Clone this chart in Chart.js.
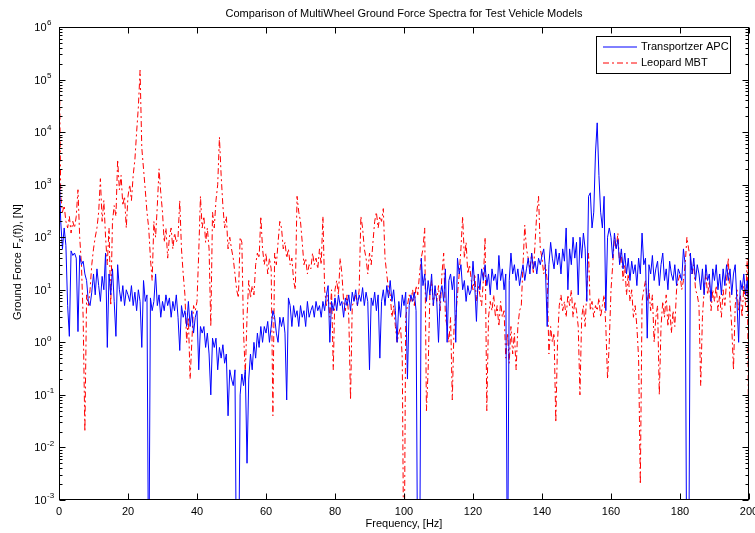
<!DOCTYPE html>
<html>
<head>
<meta charset="utf-8">
<title>MultiWheel Ground Force Spectra</title>
<script src="https://cdn.jsdelivr.net/npm/chart.js@4.4.1/dist/chart.umd.min.js"></script>
<style>
  html, body { margin: 0; padding: 0; background: #fff; }
</style>
</head>
<body>
<canvas id="spectraChart" width="755" height="533"></canvas>
<script>
// Spectrum sampled every 0.5 Hz from 0 to 200 Hz
const FREQ_STEP = 0.5;
const xTicks = [0, 20, 40, 60, 80, 100, 120, 140, 160, 180, 200];
const yDecades = [-3, -2, -1, 0, 1, 2, 3, 4, 5, 6];

// Transportzer APC, ground force [N]
const apcForce = [
  2500, 200, 60, 150, 70, 5, 1.3, 55, 45, 50, 40, 1.6, 45, 30, 35, 20, 15, 6, 5, 9,            // 0-9.5
  20, 8, 25, 12, 6, 18, 10, 50, 0.8, 20, 8, 25, 6, 1.3, 30, 10, 6, 12, 5, 10,                  // 10-19.5
  8, 6, 12, 5, 9, 4, 10, 6, 0.8, 15, 6, 8, 0.00001, 7, 4, 6, 20, 5, 8, 3,                      // 20-29.5
  6, 4, 8, 5, 7, 3, 6, 4, 8, 3, 0.7, 5, 3, 4, 2, 6, 2, 4, 1.5, 3,                              // 30-39.5
  4, 0.3, 2, 1.5, 2, 0.8, 1.5, 0.6, 0.1, 1.2, 0.8, 1.2, 0.3, 0.8, 0.5, 0.9, 0.4, 0.6, 0.04, 0.3, // 40-49.5
  0.2, 0.15, 0.3, 0.00001, 0.00001, 0.1, 0.25, 0.15, 0.3, 0.005, 0.2, 0.6, 0.3, 1, 0.5, 1.5, 0.8, 2, 1, 2, // 50-59.5
  1.5, 2.5, 1, 2, 4, 3, 1.5, 1, 3, 2, 3, 1.5, 0.08, 7, 5, 2, 5, 3, 4, 2,                       // 60-69.5
  5, 3, 4, 2, 6, 3, 4, 5, 3, 6, 4, 5, 3, 6, 4, 8, 12, 1, 6, 4,                                 // 70-79.5
  7, 4, 8, 5, 6, 3, 7, 5, 8, 4, 9, 6, 10, 5, 8, 6, 11, 5, 9, 6,                                // 80-89.5
  0.3, 7, 5, 9, 4, 8, 0.5, 6, 10, 5, 12, 7, 15, 6, 10, 4, 1, 6, 3, 8,                          // 90-99.5
  5, 9, 0.2, 5, 8, 6, 9, 4, 0.00001, 0.00001, 40, 12, 20, 6, 15, 8, 20, 5, 12, 6,              // 100-109.5
  1, 8, 12, 6, 25, 1, 15, 20, 10, 18, 1, 40, 20, 30, 10, 15, 6, 12, 8, 10,                     // 110-119.5
  35, 12, 2.5, 20, 10, 25, 15, 30, 12, 20, 8, 25, 15, 20, 10, 45, 15, 25, 10, 20,              // 120-129.5
  0.00001, 15, 50, 20, 30, 15, 25, 12, 20, 30, 15, 25, 40, 20, 50, 25, 35, 20, 40, 30,         // 130-139.5
  45, 60, 25, 2, 30, 80, 40, 25, 60, 30, 50, 20, 60, 35, 150, 10, 60, 30, 100, 40,             // 140-149.5
  80, 8, 100, 40, 120, 60, 6, 600, 700, 150, 300, 4000, 15000, 1500, 300, 150, 600, 4, 100, 150, // 150-159.5
  100, 40, 120, 60, 90, 30, 60, 25, 50, 20, 40, 15, 35, 20, 30, 12, 40, 20, 120, 30,           // 160-169.5
  40, 1.2, 30, 20, 45, 15, 25, 35, 12, 30, 50, 15, 25, 10, 35, 20, 15, 30, 12, 25,             // 170-179.5
  20, 15, 60, 30, 0.00001, 0.00001, 50, 20, 40, 15, 30, 20, 10, 25, 8, 30, 15, 20, 6, 25,      // 180-189.5
  15, 30, 10, 20, 8, 25, 12, 30, 15, 25, 8, 20, 30, 6, 1, 15, 10, 20, 8, 15,                   // 190-199.5
  3                                                                                            // 200
];

// Leopard MBT, ground force [N]
const leopardForce = [
  900000, 600, 300, 400, 200, 150, 250, 120, 200, 150, 250, 800, 100, 30, 3, 0.02, 8, 5, 10, 30, // 0-9.5
  60, 100, 150, 300, 1300, 200, 500, 100, 30, 150, 5, 200, 400, 250, 3000, 800, 1500, 400, 600, 150, // 10-19.5
  600, 1000, 500, 1500, 3000, 10000, 30000, 150000, 5000, 2000, 800, 300, 150, 40, 15, 200, 100, 400, 2000, 700, // 20-29.5
  300, 80, 150, 40, 100, 150, 60, 120, 80, 100, 500, 60, 20, 8, 1, 3, 0.2, 1, 5, 4,            // 30-39.5
  6, 50, 600, 150, 250, 80, 150, 60, 2, 300, 150, 500, 1000, 8000, 1500, 400, 150, 250, 60, 100, // 40-49.5
  60, 40, 20, 10, 7, 100, 80, 1.5, 0.25, 3, 15, 7, 12, 8, 30, 50, 40, 250, 60, 30,             // 50-59.5
  50, 20, 40, 25, 0.04, 50, 30, 80, 200, 150, 60, 80, 40, 60, 30, 40, 15, 10, 600, 300,        // 60-69.5
  200, 80, 30, 40, 20, 30, 25, 50, 30, 40, 25, 60, 30, 250, 10, 5, 8, 3, 10, 0.3,              // 70-79.5
  10, 15, 8, 40, 20, 6, 4, 8, 3, 0.08, 5, 6, 8, 5, 10, 250, 150, 60, 40, 20,                   // 80-89.5
  50, 30, 80, 200, 300, 150, 250, 200, 350, 40, 20, 10, 8, 3, 5, 2, 1, 1.5, 2, 0.5,            // 90-99.5
  0.00001, 3, 5, 8, 6, 10, 5, 12, 8, 20, 40, 60, 150, 0.05, 0.3, 8, 15, 5, 10, 6,              // 100-109.5
  12, 4, 20, 50, 3, 2, 1, 3, 0.08, 2, 3, 8, 20, 60, 250, 40, 80, 20, 30, 15,                   // 110-119.5
  10, 20, 6, 12, 8, 5, 15, 100, 0.05, 3, 6, 4, 8, 3, 5, 2, 6, 3, 4, 0.5,                       // 120-129.5
  1.5, 0.4, 2, 0.6, 1.5, 0.3, 2, 4, 5, 30, 170, 60, 40, 25, 50, 20, 80, 300, 600, 60,          // 130-139.5
  40, 20, 30, 15, 0.6, 2, 1, 1.5, 0.03, 1, 5, 8, 4, 6, 3, 8, 5, 10, 3, 6,                      // 140-149.5
  4, 2, 0.1, 3, 5, 2, 10, 50, 4, 6, 3, 5, 4, 7, 3, 5, 8, 2, 0.2, 1,                            // 150-159.5
  10, 30, 100, 60, 120, 30, 50, 15, 30, 8, 20, 6, 10, 3, 5, 2, 0.5, 0.002, 6, 10,              // 160-169.5
  15, 6, 10, 4, 8, 1, 3, 5, 0.1, 2, 6, 3, 8, 2, 5, 1.5, 4, 2, 10, 15,                          // 170-179.5
  20, 10, 15, 30, 100, 60, 40, 20, 30, 10, 8, 5, 0.15, 3, 10, 20, 8, 15, 4, 10,                // 180-189.5
  6, 12, 4, 8, 3, 10, 5, 15, 40, 6, 2, 0.3, 5, 10, 4, 8, 3, 12, 5, 40,                         // 190-199.5
  0.0015                                                                                       // 200
];

const freqs = apcForce.map((_, i) => i * FREQ_STEP);
const FONT = '"Liberation Sans", Arial, Helvetica, sans-serif';

// MATLAB style box, inward ticks, labels and legend
const matlabFrame = {
  id: 'matlabFrame',
  afterDraw(chart) {
    const { ctx, chartArea: a, scales: { x, y } } = chart;
    ctx.save();
    ctx.strokeStyle = '#000';
    ctx.lineWidth = 1;
    const L = Math.round(a.left) + 0.5, R = Math.round(a.right) - 0.5;
    const T = Math.round(a.top) + 0.5, B = Math.round(a.bottom) - 0.5;
    ctx.strokeRect(L, T, R - L, B - T);

    ctx.beginPath();
    xTicks.forEach(v => {
      const px = Math.round(x.getPixelForValue(v)) + 0.5;
      ctx.moveTo(px, B); ctx.lineTo(px, B - 6);
      ctx.moveTo(px, T); ctx.lineTo(px, T + 6);
    });
    yDecades.forEach((d, i) => {
      const py = Math.round(y.getPixelForValue(Math.pow(10, d))) + 0.5;
      ctx.moveTo(L, py); ctx.lineTo(L + 6, py);
      ctx.moveTo(R, py); ctx.lineTo(R - 6, py);
      if (i < yDecades.length - 1) {
        for (let m = 2; m <= 9; m++) {
          const pm = Math.round(y.getPixelForValue(m * Math.pow(10, d))) + 0.5;
          ctx.moveTo(L, pm); ctx.lineTo(L + 3, pm);
          ctx.moveTo(R, pm); ctx.lineTo(R - 3, pm);
        }
      }
    });
    ctx.stroke();

    // y tick labels 10^n
    ctx.fillStyle = '#000';
    ctx.textBaseline = 'middle';
    yDecades.forEach(d => {
      const py = y.getPixelForValue(Math.pow(10, d));
      ctx.font = '11px ' + FONT;
      ctx.textAlign = 'right';
      ctx.fillText('10', 46.5, py + 1);
      ctx.font = '8px ' + FONT;
      ctx.textAlign = 'left';
      ctx.fillText(String(d), 47, py - 4);
    });

    // title and x label
    const cx = (a.left + a.right) / 2;
    ctx.textAlign = 'center';
    ctx.font = '11px ' + FONT;
    ctx.fillText('Comparison of MultiWheel Ground Force Spectra for Test Vehicle Models', cx, 14);
    ctx.fillText('Frequency, [Hz]', cx, 524);

    // y label with subscript z
    ctx.save();
    ctx.translate(18, 262);
    ctx.rotate(-Math.PI / 2);
    ctx.textAlign = 'left';
    const p1 = 'Ground Force F', p2 = 'z', p3 = '(f)), [N]';
    ctx.font = '11px ' + FONT;
    const w1 = ctx.measureText(p1).width, w3 = ctx.measureText(p3).width;
    ctx.font = '8px ' + FONT;
    const w2 = ctx.measureText(p2).width;
    let sx = -(w1 + w2 + w3) / 2;
    ctx.font = '11px ' + FONT;
    ctx.fillText(p1, sx, 0);
    ctx.font = '8px ' + FONT;
    ctx.fillText(p2, sx + w1, 3);
    ctx.font = '11px ' + FONT;
    ctx.fillText(p3, sx + w1 + w2, 0);
    ctx.restore();

    // legend
    ctx.fillStyle = '#fff';
    ctx.fillRect(596.5, 36.5, 134, 37);
    ctx.strokeStyle = '#000';
    ctx.strokeRect(596.5, 36.5, 134, 37);
    ctx.lineWidth = 1;
    ctx.strokeStyle = '#0000ff';
    ctx.beginPath(); ctx.moveTo(603, 47); ctx.lineTo(637, 47); ctx.stroke();
    ctx.strokeStyle = '#ff0000';
    ctx.setLineDash([6, 3, 2, 3]);
    ctx.beginPath(); ctx.moveTo(603, 63); ctx.lineTo(637, 63); ctx.stroke();
    ctx.setLineDash([]);
    ctx.fillStyle = '#000';
    ctx.textAlign = 'left';
    ctx.font = '11px ' + FONT;
    ctx.fillText('Transportzer APC', 641, 47);
    ctx.fillText('Leopard MBT', 641, 63);
    ctx.restore();
  }
};

const ctx = document.getElementById('spectraChart').getContext('2d');
const spectraChart = new Chart(ctx, {
  type: 'line',
  data: {
    datasets: [{
      label: 'Transportzer APC',
      data: freqs.map((f, i) => ({ x: f, y: apcForce[i] })),
      borderColor: '#0000ff',
      borderWidth: 1,
      pointRadius: 0,
      tension: 0
    }, {
      label: 'Leopard MBT',
      data: freqs.map((f, i) => ({ x: f, y: leopardForce[i] })),
      borderColor: '#ff0000',
      borderWidth: 1,
      borderDash: [6, 3, 2, 3],
      pointRadius: 0,
      tension: 0
    }]
  },
  options: {
    responsive: false,
    animation: false,
    layout: { padding: { top: 27, right: 6, left: 0, bottom: 0 } },
    plugins: {
      legend: { display: false },
      tooltip: { enabled: false }
    },
    scales: {
      x: {
        type: 'linear',
        min: 0,
        max: 200,
        grid: { display: false, drawTicks: false },
        border: { display: false },
        ticks: {
          stepSize: 20,
          padding: 5,
          color: '#000',
          maxRotation: 0,
          font: { family: FONT, size: 11 }
        },
        afterFit(scale) {
          scale.height = 33;
          scale.paddingLeft = 0;
          scale.paddingRight = 0;
        }
      },
      y: {
        type: 'logarithmic',
        min: 1e-3,
        max: 1e6,
        grid: { display: false, drawTicks: false },
        border: { display: false },
        ticks: { display: false },
        afterFit(scale) {
          scale.width = 59;
          scale.paddingTop = 0;
          scale.paddingBottom = 0;
        }
      }
    }
  },
  plugins: [matlabFrame]
});
</script>
</body>
</html>
